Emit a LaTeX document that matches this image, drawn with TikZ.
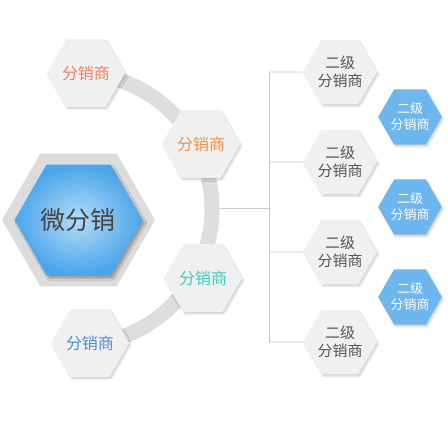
\documentclass[tikz,border=0pt]{standalone}
\usepackage{fontspec}
\newfontfamily\cjk{Noto Sans CJK SC}
\usetikzlibrary{shapes.geometric,shadows.blur}
\definecolor{hexgray}{HTML}{F0F0F0}
\definecolor{bandgray}{HTML}{DEDEDE}
\definecolor{outergray}{HTML}{DCDCDC}
\definecolor{linegray}{HTML}{C8C8C8}
\definecolor{bluehex}{HTML}{6DB6EE}
\definecolor{bigblueout}{HTML}{4AA4EA}
\definecolor{bigbluein}{HTML}{B4DCF8}
\definecolor{txtgray}{HTML}{555555}
\definecolor{tcoral}{HTML}{F47D5A}
\definecolor{torange}{HTML}{F0904A}
\definecolor{tteal}{HTML}{3CCDBD}
\definecolor{tblue}{HTML}{4A8FD0}
\tikzset{
  hexa/.style={regular polygon, regular polygon sides=6, inner sep=0pt, draw=none},
  dealer/.style={hexa, fill=hexgray, minimum size=72pt,
    blur shadow={shadow xshift=1.5pt, shadow yshift=-2pt, shadow opacity=18, shadow blur steps=6},
    font=\cjk\fontsize{16}{18}\selectfont},
  second/.style={hexa, fill=hexgray, minimum size=74pt, text=txtgray, align=center,
    blur shadow={shadow xshift=1.5pt, shadow yshift=-2pt, shadow opacity=18, shadow blur steps=6},
    font=\cjk\fontsize{15}{18}\selectfont},
  bluesecond/.style={hexa, fill=bluehex, minimum size=61pt, text=white, align=center,
    blur shadow={shadow xshift=1.5pt, shadow yshift=-2pt, shadow opacity=18, shadow blur steps=6},
    font=\cjk\fontsize{13}{16}\selectfont},
  treeline/.style={draw=linegray, line width=0.9pt},
}
\begin{document}
\begin{tikzpicture}[x=1pt,y=1pt]
\useasboundingbox (0,0) rectangle (448,448);
% band arc
\coordinate (arcc) at (76,239);
\draw[bandgray, line width=15pt] (arcc) ++(86:136) arc (86:-84:136);
% tree lines
\coordinate (split) at (220,240);
\coordinate (trunk) at (269,240);
\coordinate (t1) at (269,376);
\coordinate (t2) at (269,286);
\coordinate (t3) at (269,196);
\coordinate (t4) at (269,106);
% big node
\node[hexa, fill=outergray, minimum size=153pt] (bigout) at (78.5,228) {};
\node[hexa, minimum size=128pt, shading=radial, inner color=bigbluein, outer color=bigblueout,
  blur shadow={shadow xshift=2.5pt, shadow yshift=-3pt, shadow opacity=30, shadow blur steps=6},
  text=txtgray!80!black, font=\cjk\fontsize{25}{28}\selectfont] (big) at (78.5,228) {微分销};
% dealers
\node[dealer, text=tcoral] (d1) at (86,375) {分销商};
\node[dealer, text=torange] (d2) at (201,304) {分销商};
\node[dealer, text=tteal] (d3) at (203,170) {分销商};
\node[dealer, text=tblue] (d4) at (90,105) {分销商};
% second level
\node[second] (g1) at (340,376) {二级\\分销商};
\node[second] (g2) at (340,286) {二级\\分销商};
\node[second] (g3) at (340,196) {二级\\分销商};
\node[second] (g4) at (340,106) {二级\\分销商};
\node[bluesecond] (b1) at (410,331) {二级\\分销商};
\node[bluesecond] (b2) at (410,241) {二级\\分销商};
\node[bluesecond] (b3) at (410,151) {二级\\分销商};
% connectors
\draw[treeline] (split) -- (trunk);
\draw[treeline] (t1) -- (t4);
\draw[treeline] (t1) -- (g1.west);
\draw[treeline] (t2) -- (g2.west);
\draw[treeline] (t3) -- (g3.west);
\draw[treeline] (t4) -- (g4.west);
\end{tikzpicture}
\end{document}
